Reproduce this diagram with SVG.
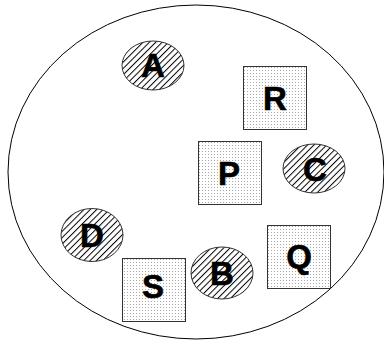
<svg xmlns="http://www.w3.org/2000/svg" width="384" height="340" viewBox="0 0 384 340">
<defs>
<pattern id="hatch" patternUnits="userSpaceOnUse" width="4.5" height="4.5" patternTransform="rotate(45)">
<rect width="4.5" height="4.5" fill="#fff"/>
<line x1="0.5" y1="0" x2="0.5" y2="4.5" stroke="#000" stroke-width="1"/>
</pattern>
<pattern id="dots" patternUnits="userSpaceOnUse" width="3" height="3">
<rect width="3" height="3" fill="#fff"/>
<rect x="1" y="1" width="1" height="1" fill="#a8a8a8"/>
</pattern>
</defs>
<style>
.circ{fill:url(#hatch);stroke:#333;stroke-width:1}
.box{fill:url(#dots);stroke:#333;stroke-width:1}
.lbl{font-family:"Liberation Sans",Arial,sans-serif;font-weight:bold;font-size:33px;text-anchor:middle;fill:#000;stroke:#000;stroke-width:0.6}
</style>
<ellipse cx="196" cy="172" rx="188" ry="167" fill="none" stroke="#000" stroke-width="1"/>
<g id="A"><ellipse class="circ" cx="153" cy="65.5" rx="31" ry="24.5"/><text class="lbl" x="153" y="77">A</text></g>
<g id="R"><rect class="box" x="243.5" y="66.5" width="63" height="63"/><text class="lbl" x="275" y="110">R</text></g>
<g id="P"><rect class="box" x="198.5" y="141.5" width="63" height="63"/><text class="lbl" x="229" y="185">P</text></g>
<g id="C"><ellipse class="circ" cx="314" cy="168.5" rx="31" ry="24.5"/><text class="lbl" x="315" y="181">C</text></g>
<g id="D"><ellipse class="circ" cx="92" cy="235" rx="31" ry="26.5"/><text class="lbl" x="92" y="247">D</text></g>
<g id="S"><rect class="box" x="122.5" y="258.5" width="63" height="63"/><text class="lbl" x="153" y="298">S</text></g>
<g id="B"><ellipse class="circ" cx="222" cy="273" rx="31" ry="26"/><text class="lbl" x="222" y="285">B</text></g>
<g id="Q"><rect class="box" x="267.5" y="225.5" width="63" height="63"/><text class="lbl" x="299" y="268">Q</text></g>
<g id="connectors"/>
</svg>
